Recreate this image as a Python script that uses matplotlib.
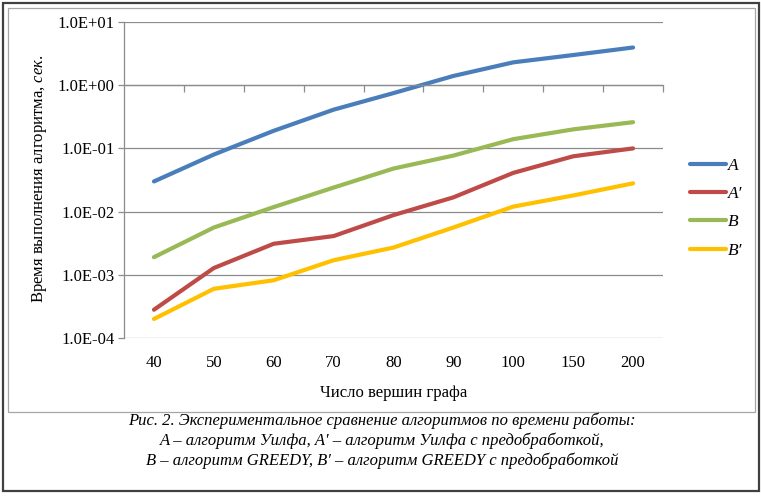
import matplotlib
matplotlib.use('Agg')
import matplotlib.pyplot as plt
from matplotlib.ticker import FuncFormatter, FixedLocator, NullLocator
from matplotlib.patches import Rectangle

plt.rcParams['font.family'] = ['Liberation Serif', 'DejaVu Serif']
plt.rcParams['mathtext.fontset'] = 'custom'
plt.rcParams['mathtext.rm'] = 'Liberation Serif'
plt.rcParams['mathtext.it'] = 'Liberation Serif:italic'

# data
vertices = ['40', '50', '60', '70', '80', '90', '100', '150', '200']
time_A = [0.030, 0.080, 0.19, 0.41, 0.75, 1.4, 2.3, 3.0, 3.95]
time_A2 = [0.00028, 0.00128, 0.0031, 0.0041, 0.0088, 0.0168, 0.041, 0.075, 0.10]
time_B = [0.0019, 0.0056, 0.0118, 0.024, 0.048, 0.077, 0.14, 0.20, 0.26]
time_B2 = [0.00020, 0.00060, 0.00082, 0.0017, 0.0027, 0.0056, 0.0120, 0.018, 0.028]

series = [
    ('A', time_A, '#4A7EBB'),
    ('A\u2032', time_A2, '#BE4B48'),
    ('B', time_B, '#98B954'),
    ('B\u2032', time_B2, '#FFC000'),
]

fig = plt.figure(figsize=(7.61, 4.96), dpi=100)

# outer frame and chart area box
fig.patches.append(Rectangle((3 / 761, 1 - 491 / 496), 756 / 761, 488 / 496,
                             transform=fig.transFigure, fill=False,
                             edgecolor='#404040', linewidth=1.6))
fig.patches.append(Rectangle((8 / 761, 1 - 412 / 496), 747 / 761, 404 / 496,
                             transform=fig.transFigure, fill=False,
                             edgecolor='#a6a6a6', linewidth=0.9))

ax = fig.add_axes([124 / 761, 1 - 338 / 496, 539 / 761, 316 / 496])

handles = []
for name, vals, col in series:
    ln, = ax.plot(vertices, vals, color=col, linewidth=3.0,
                  solid_capstyle='round', solid_joinstyle='round', label=name)
    handles.append(ln)

ax.set_yscale('log')
ax.set_ylim(1e-4, 1e1)
ax.set_xlim(-0.5, len(vertices) - 0.5)
ax.yaxis.set_major_locator(FixedLocator([1e-4, 1e-3, 1e-2, 1e-1, 1e0, 1e1]))
ax.yaxis.set_minor_locator(NullLocator())
ax.yaxis.set_major_formatter(FuncFormatter(lambda v, p: f'{v:.1E}'))
ax.grid(axis='y', color='#8c8c8c', linewidth=0.9)
ax.set_axisbelow(True)

for s in ['top', 'right']:
    ax.spines[s].set_visible(False)
ax.spines['left'].set_color('#8c8c8c')
ax.spines['left'].set_linewidth(0.9)
# category axis crosses at 1.0 (Excel default for log scale)
ax.spines['bottom'].set_position(('data', 1.0))
ax.spines['bottom'].set_color('#8c8c8c')
ax.spines['bottom'].set_linewidth(0.9)
ax.set_xticks([i + 0.5 for i in range(len(vertices))])
ax.set_xticklabels([])
ax.tick_params(axis='x', direction='out', length=5, color='#8c8c8c', width=0.9)
ax.tick_params(axis='y', direction='out', length=4, color='#8c8c8c', width=0.9,
               labelsize=12, pad=3)

sec = ax.secondary_xaxis('bottom')
sec.spines['bottom'].set_visible(False)
sec.set_xticks(range(len(vertices)))
sec.set_xticklabels(vertices)
sec.tick_params(length=0, labelsize=12, pad=12)
sec.set_xlabel('Число вершин графа', fontsize=12, labelpad=10)

fig.text(40 / 761, 1 - 179 / 496, 'Время выполнения алгоритма, $\\mathit{сек.}$',
         rotation=90, ha='center', va='center', fontsize=12)

leg = fig.legend(handles=handles, loc='upper left',
                 bbox_to_anchor=(674 / 761, 1 - 142 / 496), frameon=False,
                 handlelength=2.1, handletextpad=0.1, labelspacing=0.70,
                 prop={'size': 12.5, 'style': 'italic'})

caption = ['Рис. 2. Экспериментальное сравнение алгоритмов по времени работы:',
           'А – алгоритм Уилфа, А\u2032 – алгоритм Уилфа с предобработкой,',
           'В – алгоритм GREEDY, В\u2032 – алгоритм GREEDY с предобработкой']
for i, line in enumerate(caption):
    fig.text(382 / 761, 1 - (421 + 20 * i) / 496, line, ha='center', va='center',
             fontsize=12, style='italic')

fig.savefig('out.png', dpi=100)
